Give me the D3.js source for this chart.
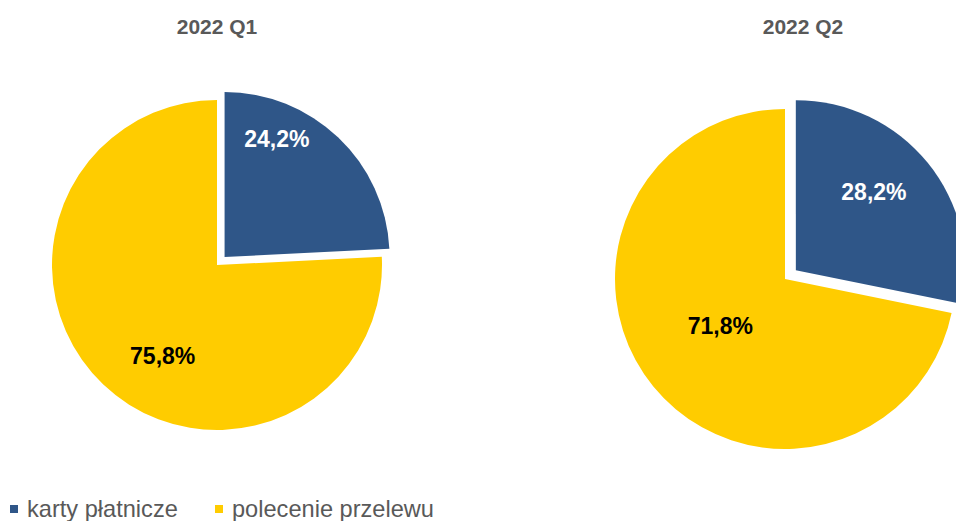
<!DOCTYPE html>
<html>
<head>
<meta charset="utf-8">
<script src="https://cdn.jsdelivr.net/npm/d3@7"></script>
<style>
  body { margin: 0; background: #fff; }
  svg { display: block; font-family: Arial, 'Liberation Sans', sans-serif; }
</style>
</head>
<body>
<svg id="chart"></svg>
<script>
const quarters = ['2022 Q1', '2022 Q2'];
const categories = ['karty płatnicze', 'polecenie przelewu'];
const cardShare = [24.2, 28.2];
const transferShare = [75.8, 71.8];

const colors = ['#2F5688', '#FFCC00'];
const labelColors = ['#ffffff', '#000000'];

// per pie layout: centre, radius, explode of the first slice, label spots (radius fraction, angle shift in deg)
const layout = [
  { cx: 217, cy: 265, r: 165, explode: 11, labels: [[0.78, -19.6], [0.64, -12.6]] },
  { cx: 785, cy: 279, r: 170, explode: 14, labels: [[0.65, -5.8], [0.47, 3.2]] },
];

const W = 956, H = 521;
const svg = d3.select('#chart').attr('width', W).attr('height', H);

const fmt = (v) => v.toFixed(1).replace('.', ',') + '%';

const pie = d3.pie().sort(null).value((d) => d.value);

quarters.forEach((q, qi) => {
  const L = layout[qi];
  const data = [
    { name: categories[0], value: cardShare[qi] },
    { name: categories[1], value: transferShare[qi] },
  ];
  const arcs = pie(data);
  const arc = d3.arc().innerRadius(0).outerRadius(L.r);

  const g = svg.append('g').attr('transform', `translate(${L.cx},${L.cy})`);

  const slices = g
    .selectAll('g.slice')
    .data(arcs)
    .enter()
    .append('g')
    .attr('class', 'slice')
    .attr('transform', (d, i) => {
      if (i !== 0) return null;
      const a = (d.startAngle + d.endAngle) / 2;
      return `translate(${Math.sin(a) * L.explode},${-Math.cos(a) * L.explode})`;
    });

  slices
    .append('path')
    .attr('d', arc)
    .attr('fill', (d, i) => colors[i]);

  slices
    .append('text')
    .attr('transform', (d, i) => {
      const [k, shift] = L.labels[i];
      const a = (d.startAngle + d.endAngle) / 2 + (shift * Math.PI) / 180;
      return `translate(${Math.sin(a) * L.r * k},${-Math.cos(a) * L.r * k})`;
    })
    .attr('text-anchor', 'middle')
    .attr('dy', '0.35em')
    .attr('fill', (d, i) => labelColors[i])
    .style('font-size', '23px')
    .style('font-weight', 'bold')
    .text((d) => fmt(d.data.value));

  svg
    .append('text')
    .attr('x', qi === 0 ? 217 : 803)
    .attr('y', 34)
    .attr('text-anchor', 'middle')
    .attr('fill', '#595959')
    .style('font-size', '21px')
    .style('font-weight', 'bold')
    .text(q);
});

// legend
const legend = svg.append('g').attr('transform', 'translate(10,509)');
const items = legend
  .selectAll('g')
  .data(categories)
  .enter()
  .append('g')
  .attr('transform', (d, i) => `translate(${i * 205},0)`);

items
  .append('rect')
  .attr('x', 0)
  .attr('y', -4)
  .attr('width', 8)
  .attr('height', 8)
  .attr('fill', (d, i) => colors[i]);

items
  .append('text')
  .attr('x', 17)
  .attr('dy', '0.35em')
  .attr('fill', '#595959')
  .style('font-size', '23.6px')
  .text((d) => d);
</script>
</body>
</html>
